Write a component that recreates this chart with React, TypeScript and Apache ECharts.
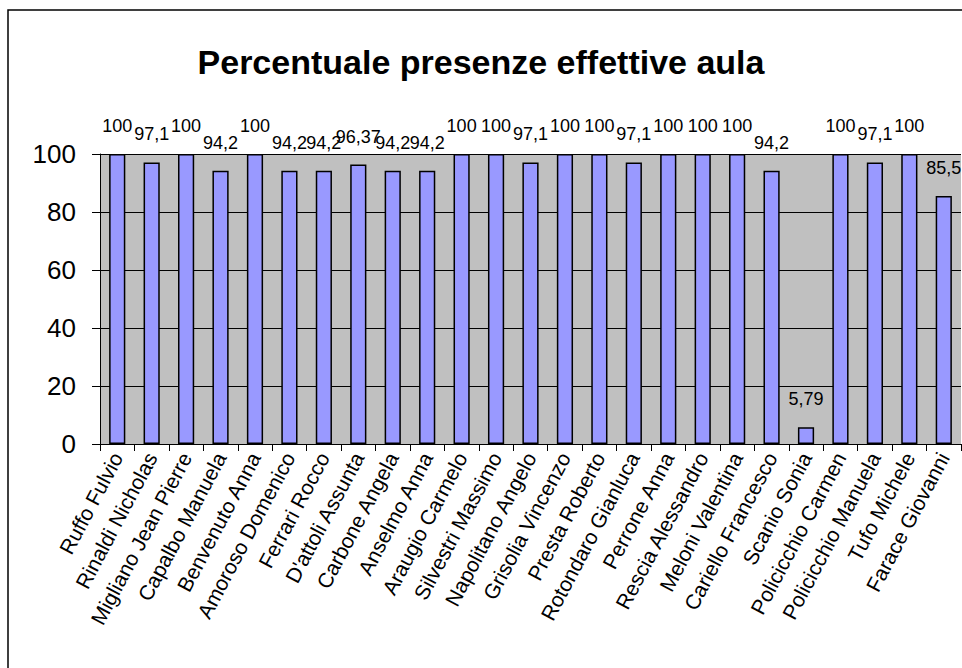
import React, { useEffect, useRef } from "react";
import * as echarts from "echarts";

const titleText = "Percentuale presenze effettive aula";

const names = [
  "Ruffo Fulvio",
  "Rinaldi Nicholas",
  "Migliano Jean Pierre",
  "Capalbo Manuela",
  "Benvenuto Anna",
  "Amoroso Domenico",
  "Ferrari Rocco",
  "D'attoli Assunta",
  "Carbone Angela",
  "Anselmo Anna",
  "Araugio Carmelo",
  "Silvestri Massimo",
  "Napolitano Angelo",
  "Grisolia Vincenzo",
  "Presta Roberto",
  "Rotondaro Gianluca",
  "Perrone Anna",
  "Rescia Alessandro",
  "Meloni Valentina",
  "Cariello Francesco",
  "Scanio Sonia",
  "Policicchio Carmen",
  "Policicchio Manuela",
  "Tufo Michele",
  "Farace Giovanni",
];

const presenze = [
  100, 97.1, 100, 94.2, 100, 94.2, 94.2, 96.37, 94.2, 94.2, 100, 100, 97.1,
  100, 100, 97.1, 100, 100, 100, 94.2, 5.79, 100, 97.1, 100, 85.5,
];

const yMin = 0;
const yMax = 100;
const yStep = 20;

const FONT = "'Liberation Sans', Arial, sans-serif";

export default function App() {
  const ref = useRef<HTMLDivElement>(null);

  useEffect(() => {
    if (!ref.current) return;
    const chart = echarts.init(ref.current, null, { renderer: "svg" });
    chart.setOption({
      animation: false,
      backgroundColor: "#ffffff",
      title: {
        text: titleText,
        left: "center",
        top: 40,
        textStyle: {
          fontFamily: FONT,
          fontWeight: "bold",
          fontSize: 34,
          color: "#000",
        },
      },
      graphic: [
        {
          type: "rect",
          shape: { x: 8, y: 10, width: 970, height: 680 },
          style: { fill: "none", stroke: "#000", lineWidth: 1.5 },
          silent: true,
          z: 100,
        },
      ],
      grid: {
        left: 100,
        top: 154,
        right: 1,
        bottom: 224,
        show: true,
        backgroundColor: "#C0C0C0",
        borderColor: "#808080",
        borderWidth: 0,
      },
      xAxis: {
        type: "category",
        data: names,
        boundaryGap: true,
        axisLine: { show: true, lineStyle: { color: "#000", width: 1 } },
        axisTick: {
          show: true,
          length: 7,
          alignWithLabel: false,
          lineStyle: { color: "#000" },
        },
        axisLabel: {
          interval: 0,
          rotate: 62,
          fontFamily: FONT,
          fontSize: 21,
          color: "#000",
          margin: 10,
        },
      },
      yAxis: {
        type: "value",
        min: yMin,
        max: yMax,
        interval: yStep,
        axisLine: { show: true, lineStyle: { color: "#000", width: 1 } },
        axisTick: { show: true, length: 8, lineStyle: { color: "#000" } },
        splitLine: { show: true, lineStyle: { color: "#000", width: 1 } },
        axisLabel: {
          fontFamily: FONT,
          fontSize: 26,
          color: "#000",
          margin: 24,
        },
      },
      series: [
        {
          type: "bar",
          data: presenze,
          barWidth: "47%",
          itemStyle: {
            color: "#9999FF",
            borderColor: "#000",
            borderWidth: 1.5,
          },
          label: {
            show: true,
            position: "top",
            distance: 19,
            fontFamily: FONT,
            fontSize: 18,
            color: "#000",
            formatter: (p: any) => String(p.value).replace(".", ","),
          },
        },
      ],
    });
    return () => chart.dispose();
  }, []);

  return (
    <div
      ref={ref}
      style={{ position: "fixed", left: 0, top: 0, width: 962, height: 668 }}
    />
  );
}
